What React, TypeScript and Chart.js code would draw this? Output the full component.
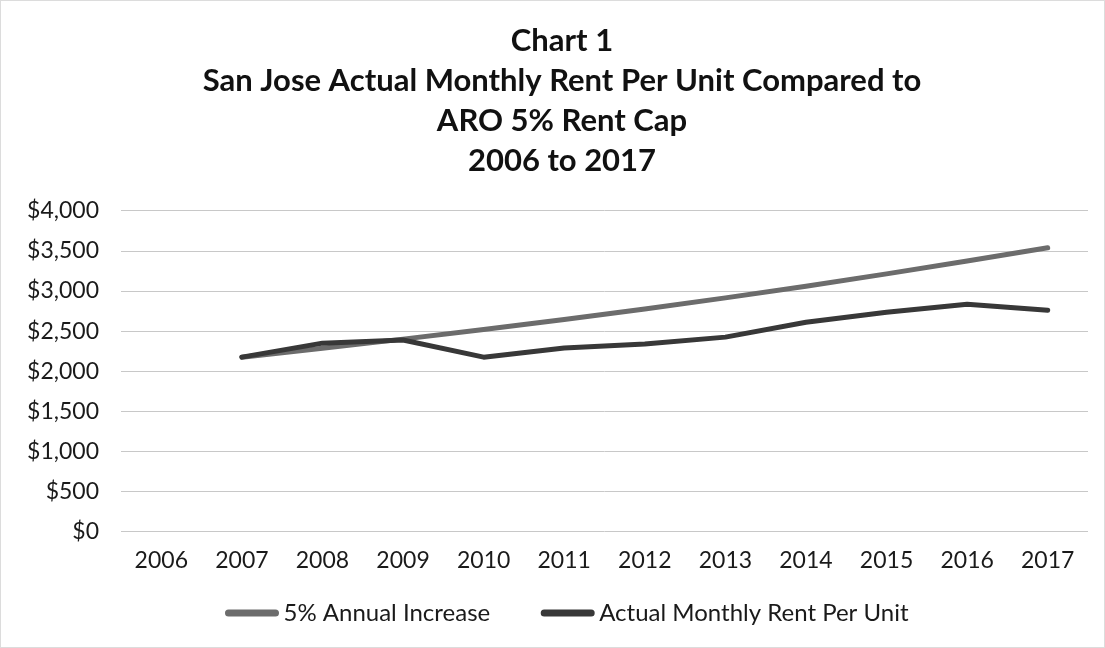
import React, { useEffect, useRef } from 'react';
import { Chart, registerables } from 'chart.js';

Chart.register(...registerables);

const years = ['2006', '2007', '2008', '2009', '2010', '2011', '2012', '2013', '2014', '2015', '2016', '2017'];
const capIncrease = [null, 2175, 2285, 2400, 2520, 2645, 2775, 2915, 3060, 3215, 3375, 3540];
const actualRent = [null, 2175, 2350, 2390, 2175, 2290, 2340, 2425, 2610, 2735, 2835, 2760];
const titleLines = [
  'Chart 1',
  'San Jose Actual Monthly Rent Per Unit Compared to',
  'ARO 5% Rent Cap',
  '2006 to 2017',
];
const seriesNames = ['5% Annual Increase', 'Actual Monthly Rent Per Unit'];
const seriesColors = ['#6c6c6c', '#383838'];

const FONT = 'Lato';

const shiftTitle = {
  id: 'shiftTitle',
  afterLayout(chart: any) {
    const t = chart.titleBlock;
    if (t) {
      t.left += 36;
    }
  },
};

const bottomLegend = {
  id: 'bottomLegend',
  afterDraw(chart: any) {
    const ctx = chart.ctx;
    ctx.save();
    ctx.font = `24px ${FONT}`;
    const markerW = 55;
    const gapText = 4;
    const gapItems = 50;
    const widths = seriesNames.map((n) => ctx.measureText(n).width);
    const total = widths.reduce((a, w) => a + markerW + gapText + w, 0) + gapItems * (seriesNames.length - 1);
    const cx = chart.width / 2 + 14;
    let x = cx - total / 2;
    const y = 613;
    seriesNames.forEach((name, i) => {
      ctx.strokeStyle = seriesColors[i];
      ctx.lineWidth = 7;
      ctx.lineCap = 'round';
      ctx.beginPath();
      ctx.moveTo(x + 4, y);
      ctx.lineTo(x + markerW - 4, y);
      ctx.stroke();
      ctx.fillStyle = '#1a1a1a';
      ctx.textBaseline = 'middle';
      ctx.textAlign = 'left';
      ctx.fillText(name, x + markerW + gapText, y);
      x += markerW + gapText + widths[i] + gapItems;
    });
    ctx.restore();
  },
};

export default function App() {
  const ref = useRef<HTMLCanvasElement>(null);
  useEffect(() => {
    if (!ref.current) return;
    const chart = new Chart(ref.current, {
      type: 'line',
      data: {
        labels: years,
        datasets: [
          {
            label: seriesNames[0],
            data: capIncrease,
            borderColor: seriesColors[0],
            backgroundColor: seriesColors[0],
            borderWidth: 5,
            pointRadius: 0,
            borderCapStyle: 'round',
            borderJoinStyle: 'round',
            order: 1,
          },
          {
            label: seriesNames[1],
            data: actualRent,
            borderColor: seriesColors[1],
            backgroundColor: seriesColors[1],
            borderWidth: 5,
            pointRadius: 0,
            borderCapStyle: 'round',
            borderJoinStyle: 'round',
            order: 0,
          },
        ],
      },
      options: {
        animation: false,
        responsive: true,
        maintainAspectRatio: false,
        layout: { padding: { left: 0, right: 17, top: 0, bottom: 67 } },
        plugins: {
          title: {
            display: true,
            text: titleLines,
            color: '#111',
            font: { family: FONT, size: 31, weight: 'bold', lineHeight: 1.29 },
            padding: { top: 21, bottom: 30 },
          },
          legend: { display: false },
          tooltip: { enabled: false },
        },
        scales: {
          x: {
            offset: true,
            grid: { display: false },
            border: { display: false },
            ticks: { color: '#1a1a1a', font: { family: FONT, size: 23 }, padding: 7, maxRotation: 0 },
          },
          y: {
            min: 0,
            max: 4000,
            afterFit: (s: any) => { s.width = 121; },
            grid: { color: '#c8c8c8', lineWidth: 1, drawTicks: false },
            border: { display: false },
            ticks: {
              stepSize: 500,
              color: '#1a1a1a',
              padding: 22,
              font: { family: FONT, size: 23 },
              callback: (v: any) => '$' + Number(v).toLocaleString('en-US'),
            },
          },
        },
      },
      plugins: [shiftTitle, bottomLegend],
    });
    return () => chart.destroy();
  }, []);
  return (
    <div style={{ position: 'fixed', left: 0, top: 0, width: 1105, height: 648, background: '#fff', outline: '1px solid #dcdcdc', outlineOffset: -1 }}>
      <canvas ref={ref} />
    </div>
  );
}
